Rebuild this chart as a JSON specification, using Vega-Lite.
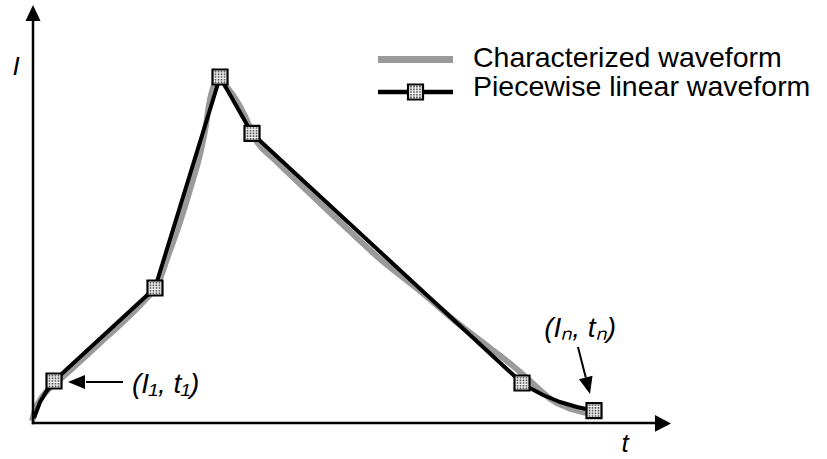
{
  "$schema": "https://vega.github.io/schema/vega-lite/v6.json",
  "width": 827,
  "height": 459,
  "autosize": {"type": "none"},
  "padding": 0,
  "background": "#ffffff",
  "config": {"view": {"stroke": null}},
  "data": {"values": [{}]},
  "datasets": {
    "characterized": [
      {"t": -0.17, "I": 0.5}, {"t": 0.33, "I": 3.25}, {"t": 1.17, "I": 5.75}, {"t": 2.33, "I": 8},
      {"t": 3.83, "I": 10}, {"t": 7, "I": 14.25}, {"t": 11.17, "I": 20}, {"t": 15.33, "I": 25.75},
      {"t": 18.67, "I": 30.75}, {"t": 20.83, "I": 34.75}, {"t": 22.5, "I": 41.75}, {"t": 24.5, "I": 50.25},
      {"t": 26.5, "I": 60}, {"t": 28, "I": 68.25}, {"t": 28.83, "I": 74.5}, {"t": 29.33, "I": 79.5},
      {"t": 30, "I": 83.75}, {"t": 30.67, "I": 85.75}, {"t": 31.33, "I": 86}, {"t": 32.17, "I": 84.25},
      {"t": 33.67, "I": 81.25}, {"t": 35.33, "I": 76.75}, {"t": 36.83, "I": 71.5}, {"t": 40.33, "I": 65.75},
      {"t": 44.5, "I": 59.75}, {"t": 51.17, "I": 50.25}, {"t": 57.83, "I": 41}, {"t": 64.5, "I": 33},
      {"t": 70.67, "I": 25.1}, {"t": 76.17, "I": 18.75}, {"t": 80, "I": 14.25}, {"t": 82.5, "I": 11},
      {"t": 84.5, "I": 8.25}, {"t": 86.5, "I": 5.75}, {"t": 89, "I": 3.9}, {"t": 92.33, "I": 2.5}
    ],
    "piecewise": [
      {"t": 0.17, "I": 1.25, "breakpoint": false},
      {"t": 1.17, "I": 5.25, "breakpoint": false},
      {"t": 2.17, "I": 7.75, "breakpoint": false},
      {"t": 3.5, "I": 10.5, "breakpoint": true},
      {"t": 20.33, "I": 33.75, "breakpoint": true},
      {"t": 31.17, "I": 86.5, "breakpoint": true},
      {"t": 36.5, "I": 72.4, "breakpoint": true},
      {"t": 81.5, "I": 10, "breakpoint": true},
      {"t": 82.83, "I": 8.75, "breakpoint": false},
      {"t": 85, "I": 7, "breakpoint": false},
      {"t": 87.83, "I": 5.25, "breakpoint": false},
      {"t": 90.67, "I": 4, "breakpoint": false},
      {"t": 93.5, "I": 3.1, "breakpoint": true}
    ]
  },
  "layer": [
    {
      "data": {"name": "characterized"},
      "mark": {"type": "line", "color": "#9a9a9a", "strokeWidth": 6, "interpolate": "monotone", "strokeCap": "butt", "clip": false},
      "encoding": {
        "x": {"field": "t", "type": "quantitative", "axis": null, "scale": {"domain": [-5.5, 132.3333], "nice": false, "zero": false}},
        "y": {"field": "I", "type": "quantitative", "axis": null, "scale": {"domain": [-9, 105.75], "nice": false, "zero": false}}
      }
    },
    {
      "mark": {"type": "rule", "color": "#000000", "strokeWidth": 2.5},
      "encoding": {"x": {"datum": 0}, "y": {"datum": -0.3}, "y2": {"datum": 100.5}}
    },
    {
      "mark": {"type": "rule", "color": "#000000", "strokeWidth": 2.5},
      "encoding": {"x": {"datum": -0.2}, "x2": {"datum": 104}, "y": {"datum": 0}}
    },
    {
      "mark": {"type": "point", "shape": "M-0.94,1L0.94,1L0,-1Z", "size": 256, "filled": true, "color": "#000000", "opacity": 1, "strokeWidth": 0},
      "encoding": {"x": {"datum": 0}, "y": {"datum": 102.5}}
    },
    {
      "mark": {"type": "point", "shape": "M-1,-1.05L-1,1.05L1,0Z", "size": 256, "filled": true, "color": "#000000", "opacity": 1, "strokeWidth": 0},
      "encoding": {"x": {"datum": 105}, "y": {"datum": -0.1}}
    },
    {
      "data": {"name": "piecewise"},
      "mark": {"type": "line", "color": "#000000", "strokeWidth": 4, "strokeJoin": "round", "clip": false},
      "encoding": {
        "x": {"field": "t", "type": "quantitative"},
        "y": {"field": "I", "type": "quantitative"}
      }
    },
    {
      "data": {"name": "piecewise"},
      "transform": [{"filter": "datum.breakpoint"}],
      "mark": {"type": "point", "shape": "square", "size": 225, "filled": true, "fill": "#f4f4f4", "stroke": "#000000", "strokeWidth": 2.2, "opacity": 1},
      "encoding": {
        "x": {"field": "t", "type": "quantitative"},
        "y": {"field": "I", "type": "quantitative"}
      }
    },
    {
      "data": {"name": "piecewise"},
      "transform": [{"filter": "datum.breakpoint"}],
      "mark": {"type": "point", "shape": "M-0.71,-0.83h0.22v0.22h-0.22Z M-0.31,-0.83h0.22v0.22h-0.22Z M0.09,-0.83h0.22v0.22h-0.22Z M0.49,-0.83h0.22v0.22h-0.22Z M-0.71,-0.47h0.22v0.22h-0.22Z M-0.31,-0.47h0.22v0.22h-0.22Z M0.09,-0.47h0.22v0.22h-0.22Z M0.49,-0.47h0.22v0.22h-0.22Z M-0.71,-0.11h0.22v0.22h-0.22Z M-0.31,-0.11h0.22v0.22h-0.22Z M0.09,-0.11h0.22v0.22h-0.22Z M0.49,-0.11h0.22v0.22h-0.22Z M-0.71,0.25h0.22v0.22h-0.22Z M-0.31,0.25h0.22v0.22h-0.22Z M0.09,0.25h0.22v0.22h-0.22Z M0.49,0.25h0.22v0.22h-0.22Z M-0.71,0.61h0.22v0.22h-0.22Z M-0.31,0.61h0.22v0.22h-0.22Z M0.09,0.61h0.22v0.22h-0.22Z M0.49,0.61h0.22v0.22h-0.22Z", "size": 225, "filled": true, "color": "#555555", "opacity": 1, "strokeWidth": 0},
      "encoding": {
        "x": {"field": "t", "type": "quantitative"},
        "y": {"field": "I", "type": "quantitative"}
      }
    },
    {
      "mark": {"type": "rule", "color": "#9a9a9a", "strokeWidth": 7},
      "encoding": {"x": {"datum": 57.5}, "x2": {"datum": 70}, "y": {"datum": 90.9}}
    },
    {
      "mark": {"type": "rule", "color": "#000000", "strokeWidth": 4.5},
      "encoding": {"x": {"datum": 57.5}, "x2": {"datum": 70}, "y": {"datum": 82.75}}
    },
    {
      "mark": {"type": "point", "shape": "square", "size": 225, "filled": true, "fill": "#f4f4f4", "stroke": "#000000", "strokeWidth": 2.2, "opacity": 1},
      "encoding": {"x": {"datum": 63.75}, "y": {"datum": 82.75}}
    },
    {
      "mark": {"type": "point", "shape": "M-0.71,-0.83h0.22v0.22h-0.22Z M-0.31,-0.83h0.22v0.22h-0.22Z M0.09,-0.83h0.22v0.22h-0.22Z M0.49,-0.83h0.22v0.22h-0.22Z M-0.71,-0.47h0.22v0.22h-0.22Z M-0.31,-0.47h0.22v0.22h-0.22Z M0.09,-0.47h0.22v0.22h-0.22Z M0.49,-0.47h0.22v0.22h-0.22Z M-0.71,-0.11h0.22v0.22h-0.22Z M-0.31,-0.11h0.22v0.22h-0.22Z M0.09,-0.11h0.22v0.22h-0.22Z M0.49,-0.11h0.22v0.22h-0.22Z M-0.71,0.25h0.22v0.22h-0.22Z M-0.31,0.25h0.22v0.22h-0.22Z M0.09,0.25h0.22v0.22h-0.22Z M0.49,0.25h0.22v0.22h-0.22Z M-0.71,0.61h0.22v0.22h-0.22Z M-0.31,0.61h0.22v0.22h-0.22Z M0.09,0.61h0.22v0.22h-0.22Z M0.49,0.61h0.22v0.22h-0.22Z", "size": 225, "filled": true, "color": "#555555", "opacity": 1, "strokeWidth": 0},
      "encoding": {"x": {"datum": 63.75}, "y": {"datum": 82.75}}
    },
    {
      "mark": {"type": "text", "text": "Characterized waveform", "font": "Liberation Sans", "fontSize": 28.5, "align": "left", "baseline": "alphabetic", "color": "#000000"},
      "encoding": {"x": {"datum": 73.33}, "y": {"datum": 89.1}}
    },
    {
      "mark": {"type": "text", "text": "Piecewise linear waveform", "font": "Liberation Sans", "fontSize": 28.5, "align": "left", "baseline": "alphabetic", "color": "#000000"},
      "encoding": {"x": {"datum": 73.33}, "y": {"datum": 81.7}}
    },
    {
      "mark": {"type": "text", "text": "I", "font": "Liberation Sans", "fontStyle": "italic", "fontSize": 26, "align": "center", "baseline": "alphabetic", "color": "#000000"},
      "encoding": {"x": {"datum": -2.83}, "y": {"datum": 87}}
    },
    {
      "mark": {"type": "text", "text": "t", "font": "Liberation Sans", "fontStyle": "italic", "fontSize": 26, "align": "center", "baseline": "alphabetic", "color": "#000000"},
      "encoding": {"x": {"datum": 98.67}, "y": {"datum": -7.2}}
    },
    {
      "mark": {"type": "text", "text": "(I₁, t₁)", "font": "Liberation Sans", "fontStyle": "italic", "fontSize": 28, "align": "left", "baseline": "alphabetic", "color": "#000000"},
      "encoding": {"x": {"datum": 16.5}, "y": {"datum": 7.5}}
    },
    {
      "mark": {"type": "rule", "color": "#000000", "strokeWidth": 2},
      "encoding": {"x": {"datum": 8.83}, "x2": {"datum": 15}, "y": {"datum": 10.25}}
    },
    {
      "mark": {"type": "point", "shape": "M1,-0.82L1,0.82L-1,0Z", "size": 289, "filled": true, "color": "#000000", "opacity": 1, "strokeWidth": 0},
      "encoding": {"x": {"datum": 7.25}, "y": {"datum": 10.25}}
    },
    {
      "mark": {"type": "text", "text": "(Iₙ, tₙ)", "font": "Liberation Sans", "fontStyle": "italic", "fontSize": 28, "align": "left", "baseline": "alphabetic", "color": "#000000"},
      "encoding": {"x": {"datum": 85.2}, "y": {"datum": 21.5}}
    },
    {
      "mark": {"type": "rule", "color": "#000000", "strokeWidth": 2},
      "encoding": {"x": {"datum": 90.83}, "x2": {"datum": 92.13}, "y": {"datum": 19}, "y2": {"datum": 11.4}}
    },
    {
      "mark": {"type": "point", "shape": "M-0.82,-1L0.82,-1L0,1Z", "size": 289, "angle": -14.3, "filled": true, "color": "#000000", "opacity": 1, "strokeWidth": 0},
      "encoding": {"x": {"datum": 92.48}, "y": {"datum": 9.3}}
    }
  ]
}
